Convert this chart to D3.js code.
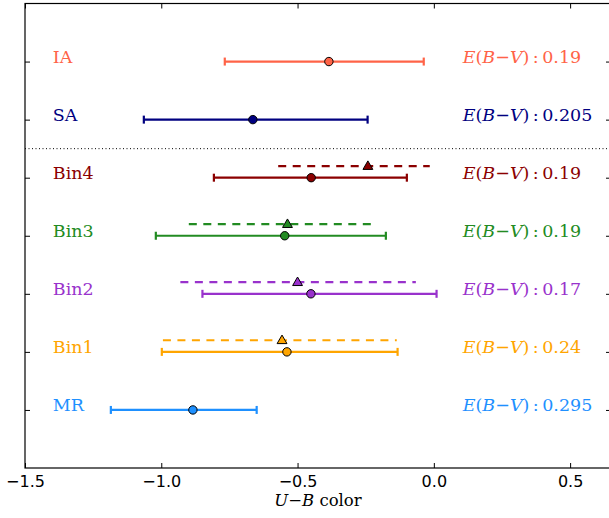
<!DOCTYPE html>
<html><head><meta charset="utf-8">
<script src="https://cdn.jsdelivr.net/npm/d3@7"></script>
<style>body{margin:0;background:#fff}svg{display:block}</style>
</head><body>
<svg id="c" width="609" height="518"></svg>
<script>
const categories = ["MR","Bin1","Bin2","Bin3","Bin4","SA","IA"];
const centers = [-0.884,-0.539,-0.451,-0.547,-0.450,-0.664,-0.385];
const lows    = [-1.185,-0.998,-0.849,-1.020,-0.807,-1.064,-0.767];
const highs   = [-0.650,-0.133, 0.010,-0.176,-0.099,-0.243,-0.037];
const altCenters = [null,-0.557,-0.500,-0.537,-0.242,null,null];
const altLows    = [null,-0.994,-0.930,-0.899,-0.571,null,null];
const altHighs   = [null,-0.136,-0.066,-0.226,-0.015,null,null];
const ebvValues = ["0.295","0.24","0.17","0.19","0.19","0.205","0.19"];
const colors = ["#1E90FF","#FFA500","#9932CC","#228B22","#8B0000","#000080","#FF6347"];
const xTicks = [-1.5,-1.0,-0.5,0.0,0.5];
const yTicks = [0,1,2,3,4,5,6];

const svg = d3.select("#c");
const x = d3.scaleLinear().domain([-1.5,0.65]).range([25,611]);
const y = d3.scaleLinear().domain([-1,7]).range([468,3.5]);
const L=25,R=611,T=3.5,B=468;
const serif = "DejaVu Serif";

// frame
svg.append("rect").attr("x",L).attr("y",T).attr("width",R-L).attr("height",B-T)
  .attr("fill","none").attr("stroke","#000").attr("stroke-width",1.2);

// axes
const fmt = d3.format(".1f");
const xb = svg.append("g").attr("transform",`translate(0,${B})`)
  .call(d3.axisBottom(x).tickValues(xTicks).tickFormat(fmt).tickSizeInner(-5).tickSizeOuter(0).tickPadding(8));
const xt = svg.append("g").attr("transform",`translate(0,${T})`)
  .call(d3.axisTop(x).tickValues(xTicks).tickFormat("").tickSizeInner(-5).tickSizeOuter(0));
const yl = svg.append("g").attr("transform",`translate(${L},0)`)
  .call(d3.axisLeft(y).tickValues(yTicks).tickFormat("").tickSizeInner(-5).tickSizeOuter(0));
const yr = svg.append("g").attr("transform",`translate(${R},0)`)
  .call(d3.axisRight(y).tickValues(yTicks).tickFormat("").tickSizeInner(-5).tickSizeOuter(0));
[xb,xt,yl,yr].forEach(g=>{g.select(".domain").remove();g.selectAll(".tick line").attr("stroke","#000");});
xb.selectAll(".tick text").attr("font-family","DejaVu Sans").attr("font-size",16).attr("fill","#000");

// x label
const xl = svg.append("text").attr("x",(L+R)/2).attr("y",506).attr("text-anchor","middle")
  .attr("font-family",serif).attr("font-size",16.5).attr("fill","#000");
xl.append("tspan").attr("font-style","italic").text("U");
xl.append("tspan").text("\u2212");
xl.append("tspan").attr("font-style","italic").text("B");
xl.append("tspan").text(" color");

// separator
svg.append("line").attr("x1",L).attr("x2",R).attr("y1",y(4.5)).attr("y2",y(4.5))
  .attr("stroke","#000").attr("stroke-width",1).attr("stroke-dasharray","1,2.5");

const capH = 4;
const off = 0.2;
categories.forEach((cat,i)=>{
  const c = colors[i];
  const g = svg.append("g");
  if (altCenters[i] !== null) {
    const yy = y(i+off);
    g.append("line").attr("x1",x(altLows[i])).attr("x2",x(altHighs[i])).attr("y1",yy).attr("y2",yy)
      .attr("stroke",c).attr("stroke-width",2.2).attr("stroke-dasharray","8,6.5");
    const tx = x(altCenters[i]);
    g.append("path").attr("d",d3.symbol(d3.symbolTriangle,42)())
      .attr("transform",`translate(${tx},${yy+0.5})`)
      .attr("fill",c).attr("stroke","#000").attr("stroke-width",1);
  }
  const yy = y(i);
  g.append("line").attr("x1",x(lows[i])).attr("x2",x(highs[i])).attr("y1",yy).attr("y2",yy)
    .attr("stroke",c).attr("stroke-width",2.2);
  [lows[i],highs[i]].forEach(v=>{
    g.append("line").attr("x1",x(v)).attr("x2",x(v)).attr("y1",yy-capH).attr("y2",yy+capH)
      .attr("stroke",c).attr("stroke-width",2.2);
  });
  g.append("circle").attr("cx",x(centers[i])).attr("cy",yy).attr("r",4.2)
    .attr("fill",c).attr("stroke","#000").attr("stroke-width",1);
  svg.append("text").attr("x",x(-1.398)).attr("y",yy+1).attr("font-family",serif)
    .attr("font-size",17.5).attr("fill",c).text(cat);
  const t = svg.append("text").attr("x",x(0.106)).attr("y",yy+1).attr("font-family",serif)
    .attr("font-size",17.5).attr("fill",c);
  t.append("tspan").attr("font-style","italic").text("E");
  t.append("tspan").text("(");
  t.append("tspan").attr("font-style","italic").text("B");
  t.append("tspan").text("\u2212");
  t.append("tspan").attr("font-style","italic").text("V");
  t.append("tspan").text(")\u2009:\u2009" + ebvValues[i]);
});
</script>
</body></html>
